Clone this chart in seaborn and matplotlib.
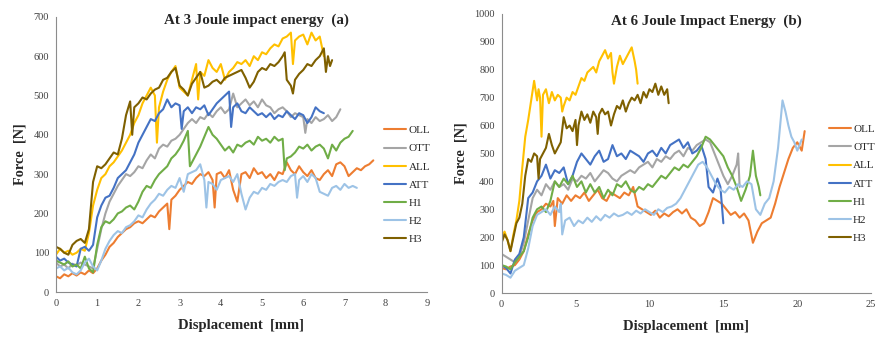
import matplotlib
matplotlib.use('Agg')
import matplotlib.pyplot as plt
import numpy as np
import pandas as pd
import seaborn as sns

# Series labels and Excel-like colours
series = ['OLL', 'OTT', 'ALL', 'ATT', 'H1', 'H2', 'H3']
colors = ['#ED7D31', '#A5A5A5', '#FFC000', '#4472C4', '#70AD47', '#9DC3E6', '#7F6000']

# ---- Panel (a): 3 Joule, displacement [mm] / force [N]
a_OLL_x = [0, 0.1, 0.2, 0.3, 0.4, 0.5, 0.6, 0.7, 0.8, 0.9, 1.0, 1.1, 1.2, 1.3, 1.4, 1.5, 1.6, 1.7, 1.8, 1.9, 2.0, 2.1, 2.2, 2.3, 2.4, 2.5, 2.6, 2.7, 2.75, 2.8, 2.9, 3.0, 3.1, 3.2, 3.3, 3.4, 3.5, 3.6, 3.7, 3.8, 3.85, 3.9, 4.0, 4.1, 4.2, 4.3, 4.4, 4.5, 4.6, 4.7, 4.8, 4.9, 5.0, 5.1, 5.2, 5.3, 5.4, 5.5, 5.6, 5.7, 5.8, 5.9, 6.0, 6.1, 6.2, 6.3, 6.4, 6.5, 6.6, 6.7, 6.8, 6.9, 7.0, 7.1, 7.2, 7.3, 7.4, 7.5, 7.6, 7.7]
a_OLL_y = [40, 35, 45, 40, 48, 42, 50, 45, 55, 48, 60, 80, 95, 115, 125, 140, 150, 160, 165, 175, 180, 175, 185, 195, 190, 205, 215, 225, 160, 235, 245, 260, 270, 280, 275, 290, 300, 295, 305, 285, 215, 300, 305, 290, 310, 260, 230, 300, 305, 290, 315, 300, 305, 290, 300, 285, 305, 300, 330, 310, 300, 320, 305, 295, 310, 290, 285, 300, 310, 295, 325, 330, 320, 295, 305, 315, 310, 320, 325, 335]
a_OTT_x = [0, 0.1, 0.2, 0.3, 0.4, 0.5, 0.6, 0.7, 0.8, 0.9, 1.0, 1.1, 1.2, 1.3, 1.4, 1.5, 1.6, 1.7, 1.8, 1.9, 2.0, 2.1, 2.2, 2.3, 2.4, 2.5, 2.6, 2.7, 2.8, 2.9, 3.0, 3.1, 3.2, 3.3, 3.4, 3.5, 3.6, 3.7, 3.8, 3.9, 4.0, 4.1, 4.2, 4.3, 4.4, 4.5, 4.6, 4.7, 4.8, 4.9, 5.0, 5.1, 5.2, 5.3, 5.4, 5.5, 5.6, 5.7, 5.8, 5.9, 6.0, 6.05, 6.1, 6.2, 6.3, 6.4, 6.5, 6.6, 6.7, 6.8, 6.9]
a_OTT_y = [75, 65, 70, 60, 72, 68, 75, 70, 65, 60, 110, 160, 200, 230, 250, 270, 285, 300, 295, 305, 320, 315, 335, 350, 340, 365, 375, 370, 385, 390, 400, 415, 430, 440, 430, 445, 440, 455, 445, 460, 470, 455, 465, 505, 470, 480, 490, 475, 485, 470, 490, 475, 470, 455, 465, 470, 460, 445, 455, 450, 445, 405, 440, 430, 445, 435, 440, 450, 435, 445, 465]
a_ALL_x = [0, 0.1, 0.2, 0.3, 0.4, 0.5, 0.6, 0.7, 0.8, 0.9, 1.0, 1.1, 1.2, 1.3, 1.4, 1.5, 1.6, 1.7, 1.8, 1.9, 2.0, 2.1, 2.2, 2.3, 2.4, 2.45, 2.5, 2.6, 2.7, 2.8, 2.9, 3.0, 3.1, 3.2, 3.3, 3.4, 3.45, 3.5, 3.6, 3.7, 3.8, 3.9, 4.0, 4.1, 4.2, 4.3, 4.4, 4.5, 4.6, 4.7, 4.8, 4.9, 5.0, 5.1, 5.2, 5.3, 5.4, 5.5, 5.6, 5.7, 5.75, 5.8, 5.9, 6.0, 6.1, 6.2, 6.3, 6.4, 6.5]
a_ALL_y = [95, 110, 100, 105, 95, 100, 110, 105, 150, 220, 260, 290, 300, 320, 330, 345, 360, 380, 400, 430, 450, 480, 500, 520, 500, 380, 470, 510, 540, 560, 575, 520, 510, 500, 540, 580, 490, 560, 550, 590, 570, 560, 580, 540, 560, 570, 585, 580, 590, 575, 600, 590, 610, 605, 620, 630, 625, 645, 650, 660, 580, 640, 650, 655, 630, 660, 640, 650, 600]
a_ATT_x = [0, 0.1, 0.2, 0.3, 0.4, 0.5, 0.6, 0.7, 0.8, 0.9, 1.0, 1.1, 1.2, 1.3, 1.4, 1.5, 1.6, 1.7, 1.8, 1.9, 2.0, 2.1, 2.2, 2.3, 2.4, 2.5, 2.6, 2.7, 2.8, 2.9, 3.0, 3.05, 3.1, 3.2, 3.3, 3.4, 3.5, 3.6, 3.7, 3.8, 3.9, 4.0, 4.1, 4.2, 4.25, 4.3, 4.4, 4.5, 4.6, 4.7, 4.8, 4.9, 5.0, 5.1, 5.2, 5.3, 5.4, 5.5, 5.6, 5.7, 5.8, 5.9, 6.0, 6.1, 6.2, 6.3, 6.4, 6.5]
a_ATT_y = [90, 80, 85, 75, 70, 65, 110, 115, 105, 120, 190, 220, 240, 245, 265, 290, 300, 310, 330, 350, 380, 400, 420, 440, 435, 455, 465, 490, 470, 480, 475, 415, 460, 470, 455, 470, 465, 475, 450, 465, 480, 490, 500, 510, 420, 470, 480, 460, 455, 470, 460, 450, 455, 445, 455, 440, 450, 445, 460, 450, 440, 455, 450, 430, 445, 470, 460, 455]
a_H1_x = [0, 0.1, 0.2, 0.3, 0.4, 0.5, 0.6, 0.7, 0.8, 0.9, 1.0, 1.1, 1.2, 1.3, 1.4, 1.5, 1.6, 1.7, 1.8, 1.9, 2.0, 2.1, 2.2, 2.3, 2.4, 2.5, 2.6, 2.7, 2.8, 2.9, 3.0, 3.1, 3.2, 3.25, 3.3, 3.4, 3.5, 3.6, 3.7, 3.8, 3.9, 4.0, 4.1, 4.2, 4.3, 4.4, 4.5, 4.6, 4.7, 4.8, 4.9, 5.0, 5.1, 5.2, 5.3, 5.4, 5.5, 5.55, 5.6, 5.7, 5.8, 5.9, 6.0, 6.1, 6.2, 6.3, 6.4, 6.5, 6.6, 6.7, 6.8, 6.9, 7.0, 7.1, 7.2]
a_H1_y = [80, 75, 70, 78, 65, 70, 60, 90, 60, 50, 120, 165, 180, 175, 185, 200, 205, 215, 220, 210, 230, 255, 270, 265, 285, 300, 310, 320, 340, 350, 365, 385, 410, 320, 330, 350, 370, 395, 420, 400, 390, 375, 360, 370, 355, 375, 370, 380, 385, 375, 395, 385, 390, 380, 395, 385, 390, 310, 340, 345, 355, 370, 365, 375, 360, 370, 375, 365, 340, 375, 360, 380, 390, 395, 410]
a_H2_x = [0, 0.1, 0.2, 0.3, 0.4, 0.5, 0.6, 0.7, 0.8, 0.9, 1.0, 1.1, 1.2, 1.3, 1.4, 1.5, 1.6, 1.7, 1.8, 1.9, 2.0, 2.1, 2.2, 2.3, 2.4, 2.5, 2.6, 2.7, 2.8, 2.9, 3.0, 3.1, 3.2, 3.3, 3.4, 3.5, 3.6, 3.65, 3.7, 3.8, 3.9, 4.0, 4.1, 4.2, 4.3, 4.4, 4.5, 4.6, 4.7, 4.8, 4.9, 5.0, 5.1, 5.2, 5.3, 5.4, 5.5, 5.6, 5.7, 5.8, 5.85, 5.9, 6.0, 6.1, 6.2, 6.3, 6.4, 6.5, 6.6, 6.7, 6.8, 6.9, 7.0, 7.1, 7.2, 7.3]
a_H2_y = [60, 65, 55, 62, 50, 45, 55, 75, 85, 65, 55, 80, 110, 130, 145, 155, 150, 165, 170, 180, 195, 190, 210, 225, 235, 250, 245, 260, 270, 265, 290, 255, 300, 305, 310, 325, 285, 215, 280, 275, 260, 285, 290, 295, 280, 300, 250, 210, 240, 255, 250, 265, 260, 275, 270, 280, 285, 280, 295, 300, 240, 285, 295, 280, 300, 290, 255, 250, 245, 265, 270, 260, 275, 265, 270, 265]
a_H3_x = [0, 0.1, 0.2, 0.3, 0.4, 0.5, 0.6, 0.7, 0.8, 0.85, 0.9, 1.0, 1.1, 1.2, 1.3, 1.4, 1.5, 1.6, 1.7, 1.8, 1.85, 1.9, 2.0, 2.1, 2.2, 2.3, 2.4, 2.5, 2.6, 2.7, 2.8, 2.9, 3.0, 3.1, 3.2, 3.3, 3.4, 3.5, 3.6, 3.7, 3.8, 3.9, 4.0, 4.1, 4.2, 4.3, 4.4, 4.5, 4.6, 4.7, 4.8, 4.9, 5.0, 5.1, 5.2, 5.3, 5.4, 5.5, 5.55, 5.6, 5.7, 5.75, 5.8, 5.9, 6.0, 6.1, 6.2, 6.3, 6.4, 6.5, 6.55, 6.6, 6.65, 6.7]
a_H3_y = [115, 110, 100, 95, 120, 130, 135, 125, 160, 220, 280, 320, 315, 325, 340, 355, 350, 390, 450, 485, 400, 470, 480, 495, 490, 505, 515, 520, 540, 545, 560, 570, 525, 515, 500, 530, 545, 560, 520, 525, 535, 540, 530, 545, 550, 555, 560, 565, 545, 520, 535, 560, 570, 565, 580, 575, 585, 600, 610, 540, 525, 505, 540, 555, 565, 580, 575, 590, 600, 620, 560, 600, 575, 590]

# ---- Panel (b): 6 Joule
b_OLL_x = [0, 0.3, 0.6, 0.9, 1.2, 1.5, 1.8, 2.1, 2.4, 2.7, 3.0, 3.3, 3.5, 3.6, 3.8, 4.1, 4.4, 4.7, 5.0, 5.3, 5.6, 5.9, 6.2, 6.5, 6.8, 7.1, 7.4, 7.7, 8.0, 8.3, 8.6, 8.9, 9.2, 9.5, 9.8, 10.1, 10.4, 10.7, 11.0, 11.3, 11.6, 11.9, 12.2, 12.5, 12.8, 13.1, 13.4, 13.7, 14.0, 14.3, 14.6, 14.9, 15.2, 15.5, 15.8, 16.1, 16.4, 16.7, 17.0, 17.3, 17.6, 17.9, 18.2, 18.5, 18.8, 19.1, 19.4, 19.7, 20.0, 20.3, 20.5]
b_OLL_y = [90, 85, 95, 100, 120, 150, 210, 260, 290, 300, 320, 310, 330, 240, 340, 320, 350, 330, 350, 340, 360, 330, 350, 370, 340, 330, 360, 350, 340, 360, 350, 380, 310, 300, 290, 280, 295, 270, 285, 275, 290, 300, 285, 300, 270, 260, 240, 250, 290, 340, 330, 320, 300, 280, 290, 270, 285, 260, 180, 220, 250, 260, 270, 320, 380, 430, 480, 520, 540, 510, 580]
b_OTT_x = [0, 0.3, 0.6, 0.9, 1.2, 1.5, 1.8, 2.1, 2.4, 2.7, 3.0, 3.3, 3.6, 3.9, 4.2, 4.5, 4.8, 5.1, 5.4, 5.7, 6.0, 6.3, 6.6, 6.9, 7.2, 7.5, 7.8, 8.1, 8.4, 8.7, 9.0, 9.3, 9.6, 9.9, 10.2, 10.5, 10.8, 11.1, 11.4, 11.7, 12.0, 12.3, 12.6, 12.9, 13.2, 13.5, 13.8, 14.1, 14.4, 14.7, 15.0, 15.3, 15.6, 15.9, 16.0, 16.1]
b_OTT_y = [140, 130, 120, 110, 130, 180, 260, 340, 370, 350, 390, 370, 400, 380, 390, 370, 410, 400, 420, 410, 430, 400, 420, 440, 430, 410, 400, 420, 430, 440, 430, 450, 460, 470, 450, 480, 470, 490, 480, 500, 510, 490, 520, 510, 530, 540, 550, 540, 500, 460, 420, 390, 420, 460, 500, 380]
b_ALL_x = [0, 0.2, 0.4, 0.6, 0.8, 1.0, 1.2, 1.4, 1.6, 1.8, 2.0, 2.2, 2.4, 2.5, 2.6, 2.7, 2.8, 3.0, 3.2, 3.4, 3.6, 3.8, 4.0, 4.1, 4.2, 4.4, 4.6, 4.8, 5.0, 5.2, 5.4, 5.6, 5.8, 6.0, 6.2, 6.4, 6.6, 6.8, 7.0, 7.2, 7.4, 7.5, 7.6, 7.8, 8.0, 8.2, 8.4, 8.6, 8.8, 9.0, 9.1, 9.2]
b_ALL_y = [200, 220, 190, 150, 210, 260, 330, 450, 560, 620, 690, 760, 690, 730, 700, 560, 710, 730, 680, 720, 690, 710, 700, 650, 670, 700, 690, 720, 710, 740, 770, 760, 790, 800, 810, 790, 830, 850, 870, 840, 860, 790, 750, 810, 850, 820, 840, 860, 880, 830, 800, 750]
b_ATT_x = [0, 0.3, 0.6, 0.9, 1.2, 1.5, 1.8, 2.1, 2.4, 2.7, 3.0, 3.3, 3.6, 3.9, 4.2, 4.5, 4.8, 5.1, 5.4, 5.7, 6.0, 6.3, 6.6, 6.9, 7.2, 7.5, 7.8, 8.1, 8.4, 8.7, 9.0, 9.3, 9.6, 9.9, 10.2, 10.5, 10.8, 11.1, 11.4, 11.7, 12.0, 12.3, 12.6, 12.9, 13.2, 13.5, 13.8, 14.0, 14.3, 14.6, 14.8, 15.0]
b_ATT_y = [100, 90, 70, 120, 140, 200, 340, 360, 400, 420, 460, 410, 440, 430, 450, 390, 420, 470, 500, 480, 460, 490, 510, 470, 480, 530, 490, 500, 480, 510, 500, 490, 470, 500, 510, 490, 520, 500, 530, 540, 550, 520, 540, 500, 510, 530, 480, 380, 360, 410, 380, 250]
b_H1_x = [0, 0.3, 0.6, 0.9, 1.2, 1.5, 1.8, 2.1, 2.4, 2.7, 3.0, 3.3, 3.6, 3.9, 4.2, 4.5, 4.8, 5.1, 5.4, 5.7, 6.0, 6.3, 6.6, 6.9, 7.2, 7.5, 7.8, 8.1, 8.4, 8.7, 9.0, 9.3, 9.6, 9.9, 10.2, 10.5, 10.8, 11.1, 11.4, 11.7, 12.0, 12.3, 12.6, 12.9, 13.2, 13.5, 13.8, 14.1, 14.4, 14.7, 15.0, 15.3, 15.6, 15.9, 16.2, 16.5, 16.8, 17.0, 17.2, 17.4, 17.5]
b_H1_y = [100, 95, 85, 110, 130, 150, 200, 270, 300, 310, 290, 330, 400, 380, 410, 390, 420, 380, 400, 360, 390, 360, 380, 340, 370, 350, 390, 380, 400, 370, 360, 380, 370, 390, 380, 400, 420, 410, 430, 450, 440, 460, 450, 470, 490, 520, 560, 550, 530, 510, 490, 450, 420, 380, 330, 370, 420, 510, 420, 380, 350]
b_H2_x = [0, 0.3, 0.6, 0.9, 1.2, 1.5, 1.8, 2.1, 2.4, 2.7, 3.0, 3.3, 3.6, 3.9, 4.0, 4.1, 4.3, 4.6, 4.9, 5.2, 5.5, 5.8, 6.1, 6.4, 6.7, 7.0, 7.3, 7.6, 7.9, 8.2, 8.5, 8.8, 9.1, 9.4, 9.7, 10.0, 10.3, 10.6, 10.9, 11.2, 11.5, 11.8, 12.1, 12.4, 12.7, 13.0, 13.3, 13.6, 13.9, 14.2, 14.5, 14.8, 15.1, 15.4, 15.7, 16.0, 16.3, 16.6, 16.9, 17.2, 17.5, 17.8, 18.1, 18.4, 18.7, 19.0, 19.2, 19.4, 19.6, 19.8, 20.0, 20.3]
b_H2_y = [70, 65, 55, 80, 90, 100, 160, 240, 280, 290, 300, 280, 310, 290, 320, 210, 260, 270, 240, 260, 250, 270, 255, 275, 260, 280, 270, 285, 275, 280, 290, 280, 295, 285, 300, 290, 280, 300, 290, 305, 310, 320, 340, 370, 400, 430, 460, 470, 450, 420, 390, 370, 360, 380, 370, 390, 380, 400, 390, 300, 280, 320, 340, 400, 520, 690, 650, 600, 560, 540, 510, 550]
b_H3_x = [0, 0.2, 0.4, 0.6, 0.8, 1.0, 1.2, 1.4, 1.6, 1.8, 2.0, 2.2, 2.4, 2.5, 2.6, 2.8, 3.0, 3.2, 3.4, 3.6, 3.8, 4.0, 4.2, 4.4, 4.6, 4.8, 5.0, 5.1, 5.2, 5.4, 5.6, 5.8, 6.0, 6.2, 6.4, 6.5, 6.6, 6.8, 7.0, 7.2, 7.4, 7.6, 7.8, 8.0, 8.2, 8.4, 8.6, 8.8, 9.0, 9.2, 9.4, 9.6, 9.8, 10.0, 10.2, 10.4, 10.6, 10.8, 11.0, 11.2, 11.3]
b_H3_y = [180, 210, 190, 150, 200, 250, 270, 320, 420, 480, 470, 500, 490, 410, 480, 500, 520, 570, 530, 500, 520, 540, 630, 590, 600, 580, 620, 530, 600, 650, 620, 640, 610, 650, 630, 570, 640, 660, 640, 650, 600, 640, 670, 660, 690, 650, 680, 700, 690, 710, 680, 720, 700, 730, 720, 750, 710, 740, 710, 730, 680]

a_xs = [a_OLL_x, a_OTT_x, a_ALL_x, a_ATT_x, a_H1_x, a_H2_x, a_H3_x]
a_ys = [a_OLL_y, a_OTT_y, a_ALL_y, a_ATT_y, a_H1_y, a_H2_y, a_H3_y]
b_xs = [b_OLL_x, b_OTT_x, b_ALL_x, b_ATT_x, b_H1_x, b_H2_x, b_H3_x]
b_ys = [b_OLL_y, b_OTT_y, b_ALL_y, b_ATT_y, b_H1_y, b_H2_y, b_H3_y]


def to_frame(xs, ys):
    rows = []
    for name, x, y in zip(series, xs, ys):
        rows.append(pd.DataFrame({'Displacement': x, 'Force': y, 'Series': name}))
    return pd.concat(rows, ignore_index=True)


sns.set_style('white')
plt.rcParams['font.family'] = ['Liberation Serif', 'DejaVu Serif']

fig = plt.figure(figsize=(8.8, 3.38), dpi=100)
ax1 = fig.add_axes([0.0636, 0.136, 0.4215, 0.814])
ax2 = fig.add_axes([0.570, 0.133, 0.420, 0.826])

panels = [
    (ax1, to_frame(a_xs, a_ys), 9, 1, 700, 100, 'At 3 Joule impact energy  (a)', 0.54, 0.989, 0.605),
    (ax2, to_frame(b_xs, b_ys), 25, 5, 1000, 100, 'At 6 Joule Impact Energy  (b)', 0.553, 0.975, 0.604),
]

for ax, df, xmax, xstep, ymax, ystep, title, tx, ty, ly in panels:
    sns.lineplot(data=df, x='Displacement', y='Force', hue='Series', palette=colors,
                 sort=False, estimator=None, linewidth=1.5, ax=ax, legend=False)
    ax.set_xlim(0, xmax)
    ax.set_ylim(0, ymax)
    ax.set_xticks(np.arange(0, xmax + 1, xstep))
    ax.set_yticks(np.arange(0, ymax + 1, ystep))
    for s in ['top', 'right']:
        ax.spines[s].set_visible(False)
    for s in ['left', 'bottom']:
        ax.spines[s].set_color('#8c8c8c')
        ax.spines[s].set_linewidth(0.8)
    ax.tick_params(axis='both', labelsize=7.5, colors='#404040', length=3, width=0.6,
                   direction='out', pad=2)
    ax.tick_params(axis='both', color='#8c8c8c')
    ax.set_xlabel('Displacement  [mm]', fontsize=10.5, fontweight='bold', labelpad=8)
    ax.set_ylabel('Force  [N]', fontsize=10.3, fontweight='bold', labelpad=5)
    ax.text(tx, ty, title, transform=ax.transAxes, ha='center', va='center',
            fontsize=10.8, fontweight='bold')
    handles = [plt.Line2D([], [], color=c, lw=1.5) for c in colors]
    ax.legend(handles, series, loc='upper left', bbox_to_anchor=(0.885, ly),
              frameon=False, fontsize=8, handlelength=2.0, handletextpad=0.2,
              labelspacing=0.75, borderaxespad=0, borderpad=0)

fig.savefig('out.png', dpi=100)
